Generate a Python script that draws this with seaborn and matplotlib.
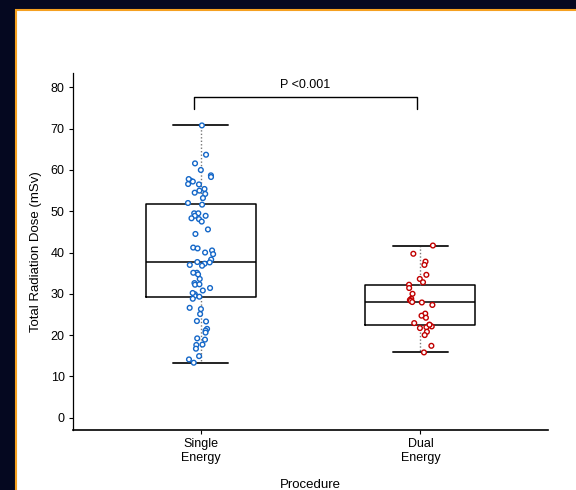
import numpy as np
import pandas as pd
import matplotlib
matplotlib.use("Agg")
import matplotlib.pyplot as plt
from matplotlib.patches import Rectangle
import seaborn as sns

# ---------------- data ----------------
categories = ["Single\nEnergy", "Dual\nEnergy"]
single_energy = [70.8, 63.7, 61.6, 60.0, 58.7, 58.3, 57.4, 57.2, 57.8, 56.5,
                 56.6, 55.0, 55.4, 54.5, 54.2, 53.2, 52.0, 51.6, 49.5, 49.5,
                 48.9, 48.9, 48.1, 48.3, 47.5, 45.6, 44.5, 41.2, 41.0, 40.5,
                 39.6, 40.0, 38.3, 37.6, 37.7, 37.0, 37.3, 36.8, 35.1, 35.1,
                 34.7, 33.6, 32.6, 32.2, 32.3, 31.4, 30.8, 29.9, 29.5, 29.3,
                 28.8, 30.2, 26.3, 26.6, 25.1, 23.4, 23.3, 21.5, 21.1, 20.6,
                 19.2, 18.9, 17.6, 17.7, 16.7, 14.9, 14.1, 13.3]
dual_energy = [41.7, 39.7, 37.8, 37.0, 34.6, 33.6, 32.8, 32.2, 31.4, 30.0,
               28.8, 28.5, 28.3, 27.9, 28.0, 27.3, 25.2, 24.7, 24.2, 22.9,
               22.1, 22.5, 21.9, 21.7, 22.5, 20.8, 20.0, 17.4, 15.8]
y_ticks = [0, 10, 20, 30, 40, 50, 60, 70, 80]
p_label = "P <0.001"
y_label = "Total Radiation Dose (mSv)"
x_label = "Procedure"

df = pd.DataFrame({
    "Procedure": [categories[0]] * len(single_energy) + [categories[1]] * len(dual_energy),
    "Dose": single_energy + dual_energy,
})

# ---------------- styling ----------------
sns.set_style("ticks")
plt.rcParams["font.family"] = ["Liberation Sans", "DejaVu Sans"]
plt.rcParams["text.color"] = "black"
plt.rcParams["axes.labelcolor"] = "black"

W, H = 576, 490
fig = plt.figure(figsize=(W / 100, H / 100), dpi=100)
fig.patch.set_facecolor("#050820")
fig.add_artist(Rectangle((16 / W, -0.1), 1.2, 1.1 - 10 / H,
                         transform=fig.transFigure, facecolor="white",
                         edgecolor="#f5a020", linewidth=1.5, zorder=0))

ax = fig.add_axes([73 / W, 1 - 430 / H, (548 - 73) / W, (430 - 73) / H])
ax.patch.set_alpha(0)

sns.boxplot(data=df, x="Procedure", y="Dose", order=categories, ax=ax,
            width=0.5, fill=False, color="black", whis=1.5, showfliers=False,
            linewidth=1.1, capwidths=0.25,
            whiskerprops=dict(linestyle=(0, (1, 1.5)), color="#777777", linewidth=1.0),
            capprops=dict(color="#222222", linewidth=1.4),
            medianprops=dict(color="black", linewidth=1.1),
            boxprops=dict(color="black", linewidth=1.1))

palette = {categories[0]: "#1467c8", categories[1]: "#c00000"}
n_before = len(ax.collections)
np.random.seed(3)
sns.stripplot(data=df, x="Procedure", y="Dose", order=categories, hue="Procedure",
              palette=palette, legend=False, jitter=0.06, size=3.4,
              linewidth=1.0, ax=ax, zorder=3)
for coll in ax.collections[n_before:]:
    fc = coll.get_facecolor()
    coll.set_edgecolor(fc)
    coll.set_facecolor("white")

# significance bracket
x0, x1 = -0.03, 0.985
yb, yt = 74.7, 77.6
ax.plot([x0, x0, x1, x1], [yb, yt, yt, yb], color="black", linewidth=1.0,
        clip_on=False)
ax.text((x0 + x1) / 2, 79.2, p_label, ha="center", va="bottom", fontsize=9,
        color="black")

ax.set_xlim(-0.58, 1.58)
ax.set_ylim(-3.0, 83.5)
ax.set_yticks(y_ticks)
ax.set_yticklabels([str(t) for t in y_ticks])
ax.tick_params(axis="both", labelsize=9, length=3, width=0.8, colors="black",
               labelcolor="black", pad=3)
ax.set_ylabel(y_label, fontsize=9.5, labelpad=6, color="black")
ax.set_xlabel(x_label, fontsize=9.5, labelpad=11, color="black")
sns.despine(ax=ax)
ax.spines["left"].set_linewidth(0.9)
ax.spines["bottom"].set_linewidth(1.2)
ax.spines["left"].set_color("black")
ax.spines["bottom"].set_color("black")

fig.savefig("out.png", dpi=100, facecolor=fig.get_facecolor())
